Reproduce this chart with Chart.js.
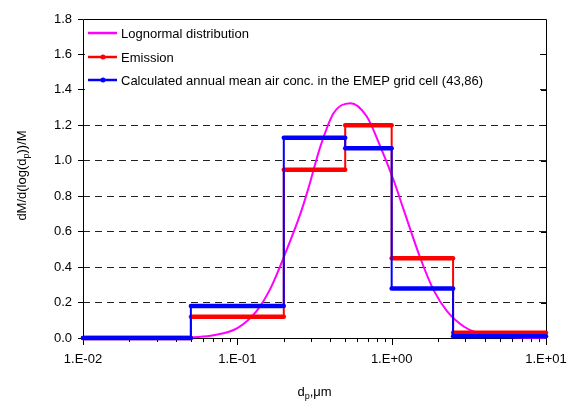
<!DOCTYPE html>
<html>
<head>
<meta charset="utf-8">
<script src="https://cdn.jsdelivr.net/npm/chart.js@4/dist/chart.umd.min.js"></script>
<style>
  html, body { margin: 0; padding: 0; background: #fff; }
</style>
</head>
<body>
<canvas id="myChart" width="571" height="402"></canvas>
<script>
// size bins (dp, um) and the values per bin
const binEdges = [0.01, 0.05, 0.2, 0.5, 1, 2.5, 10];
const emission = [0, 0.12, 0.95, 1.2, 0.45, 0.03];
const calcConc = [0, 0.18, 1.13, 1.07, 0.28, 0.01];

// lognormal curve
const lognX = [0.05, 0.07, 0.1, 0.134, 0.164, 0.205, 0.256, 0.29, 0.345, 0.421, 0.54, 0.69, 0.845, 1.03, 1.2, 1.535, 1.87, 2.29, 2.93, 3.57, 5, 7, 10];
const lognY = [0.002, 0.015, 0.056, 0.155, 0.28, 0.48, 0.70, 0.85, 1.08, 1.27, 1.325, 1.25, 1.08, 0.89, 0.72, 0.45, 0.27, 0.15, 0.065, 0.03, 0.008, 0.002, 0];

const seriesNames = [
  'Lognormal distribution',
  'Emission',
  'Calculated annual mean air conc. in the EMEP grid cell (43,86)'
];
const seriesColors = ['#ff00ff', '#ff0000', '#0000ff'];

const FONT = '"Liberation Sans", Arial, sans-serif';
Chart.defaults.font.family = FONT;
Chart.defaults.font.size = 13;
Chart.defaults.color = '#000';

function steps(vals) {
  const pts = [];
  vals.forEach((v, i) => {
    pts.push({ x: binEdges[i], y: v });
    pts.push({ x: binEdges[i + 1], y: v });
  });
  return pts;
}

const stepSegment = {
  borderWidth: c => c.p0.parsed.y === c.p1.parsed.y ? 4.5 : 2
};

// titles, frame, minor ticks and the in-plot legend
const extras = {
  id: 'extras',
  beforeDatasetsDraw(chart) {
    const { ctx, chartArea: a, scales } = chart;
    ctx.save();
    // legend box hides the upper gridlines
    ctx.fillStyle = '#fff';
    ctx.fillRect(a.left + 2, a.top + 2, a.right - a.left - 8, 76);

    ctx.strokeStyle = '#000';
    ctx.lineWidth = 1;
    ctx.beginPath();
    ctx.rect(a.left + 0.5, a.top + 0.5, a.right - a.left, a.bottom - a.top);
    ctx.stroke();

    // right side ticks
    ctx.beginPath();
    for (let v = 0.2; v < 1.75; v += 0.2) {
      const y = Math.round(scales.y.getPixelForValue(v)) + 0.5;
      ctx.moveTo(a.right - 5, y);
      ctx.lineTo(a.right, y);
    }
    // x log ticks
    for (let e = -2; e <= 1; e++) {
      for (let k = 1; k <= 9; k++) {
        const v = k * Math.pow(10, e);
        if (v > 10.0001) break;
        const x = Math.round(scales.x.getPixelForValue(v)) + 0.5;
        ctx.moveTo(x, a.bottom);
        ctx.lineTo(x, a.bottom + (k === 1 ? 7 : 4));
      }
    }
    ctx.stroke();

    // legend
    ctx.font = '13px ' + FONT;
    ctx.textBaseline = 'middle';
    const rows = [33, 57, 80];
    seriesNames.forEach((name, i) => {
      const y = rows[i];
      ctx.strokeStyle = seriesColors[i];
      ctx.lineWidth = 2.5;
      ctx.beginPath();
      ctx.moveTo(88, y);
      ctx.lineTo(117, y);
      ctx.stroke();
      if (i > 0) {
        ctx.fillStyle = seriesColors[i];
        ctx.beginPath();
        ctx.arc(103, y, 2.5, 0, Math.PI * 2);
        ctx.fill();
      }
      ctx.fillStyle = '#000';
      ctx.fillText(name, 121, y + 1);
    });
    ctx.restore();
  },
  afterDraw(chart) {
    const { ctx, chartArea: a } = chart;
    ctx.save();
    ctx.fillStyle = '#000';
    ctx.textBaseline = 'alphabetic';
    const big = '13px ' + FONT, small = '9px ' + FONT;

    // x title: dp,um
    ctx.font = big;
    const w1 = ctx.measureText('d').width;
    const w3 = ctx.measureText(',\u03bcm').width;
    ctx.font = small;
    const w2 = ctx.measureText('p').width;
    let x = (a.left + a.right) / 2 - (w1 + w2 + w3) / 2;
    const yb = 396;
    ctx.font = big; ctx.fillText('d', x, yb); x += w1;
    ctx.font = small; ctx.fillText('p', x, yb + 3); x += w2;
    ctx.font = big; ctx.fillText(',\u03bcm', x, yb);

    // y title: dM/d(log(dp))/M
    ctx.translate(26, (a.top + a.bottom) / 2 - 3);
    ctx.rotate(-Math.PI / 2);
    ctx.font = big;
    const p1 = 'dM/d(log(d', p3 = '))/M';
    const v1 = ctx.measureText(p1).width, v3 = ctx.measureText(p3).width;
    ctx.font = small;
    const v2 = ctx.measureText('p').width;
    let t = -(v1 + v2 + v3) / 2;
    ctx.font = big; ctx.fillText(p1, t, 0); t += v1;
    ctx.font = small; ctx.fillText('p', t, 3); t += v2;
    ctx.font = big; ctx.fillText(p3, t, 0);
    ctx.restore();
  }
};

const ctx = document.getElementById('myChart').getContext('2d');
const chart = new Chart(ctx, {
  type: 'line',
  data: {
    datasets: [
      {
        label: seriesNames[2],
        data: steps(calcConc),
        borderColor: seriesColors[2],
        borderWidth: 4.5,
        borderCapStyle: 'round',
        borderJoinStyle: 'round',
        segment: stepSegment,
        pointRadius: 0,
        clip: false,
        order: 1
      },
      {
        label: seriesNames[1],
        data: steps(emission),
        borderColor: seriesColors[1],
        borderWidth: 4.5,
        borderCapStyle: 'round',
        borderJoinStyle: 'round',
        segment: stepSegment,
        pointRadius: 0,
        clip: false,
        order: 2
      },
      {
        label: seriesNames[0],
        data: lognX.map((x, i) => ({ x: x, y: lognY[i] })),
        borderColor: seriesColors[0],
        borderWidth: 2,
        cubicInterpolationMode: 'monotone',
        pointRadius: 0,
        clip: false,
        order: 3
      }
    ]
  },
  options: {
    responsive: false,
    animation: false,
    devicePixelRatio: 1,
    layout: { padding: { top: 19, right: 25, left: 0, bottom: 0 } },
    plugins: { legend: { display: false }, tooltip: { enabled: false } },
    scales: {
      x: {
        type: 'logarithmic',
        min: 0.01,
        max: 10,
        afterFit: s => { s.height = 64; s.paddingLeft = 0; s.paddingRight = 0; },
        border: { display: false },
        grid: { drawOnChartArea: false, drawTicks: false },
        ticks: {
          autoSkip: false,
          maxRotation: 0,
          padding: 14,
          callback: v => {
            const e = Math.round(Math.log10(v));
            if (Math.abs(Math.log10(v) - e) > 1e-6) return '';
            return '1.E' + (e < 0 ? '-' : '+') + String(Math.abs(e)).padStart(2, '0');
          }
        }
      },
      y: {
        min: 0,
        max: 1.8,
        afterFit: s => { s.width = 83; s.paddingTop = 0; s.paddingBottom = 0; },
        border: { display: false, dash: [7, 5] },
        grid: {
          color: c => (c.tick && (c.tick.value < 0.01 || c.tick.value > 1.79)) ? 'rgba(0,0,0,0)' : '#222',
          tickColor: '#000',
          tickLength: 5
        },
        ticks: {
          stepSize: 0.2,
          padding: 6,
          callback: v => v.toFixed(1)
        }
      }
    }
  },
  plugins: [extras]
});
</script>
</body>
</html>
